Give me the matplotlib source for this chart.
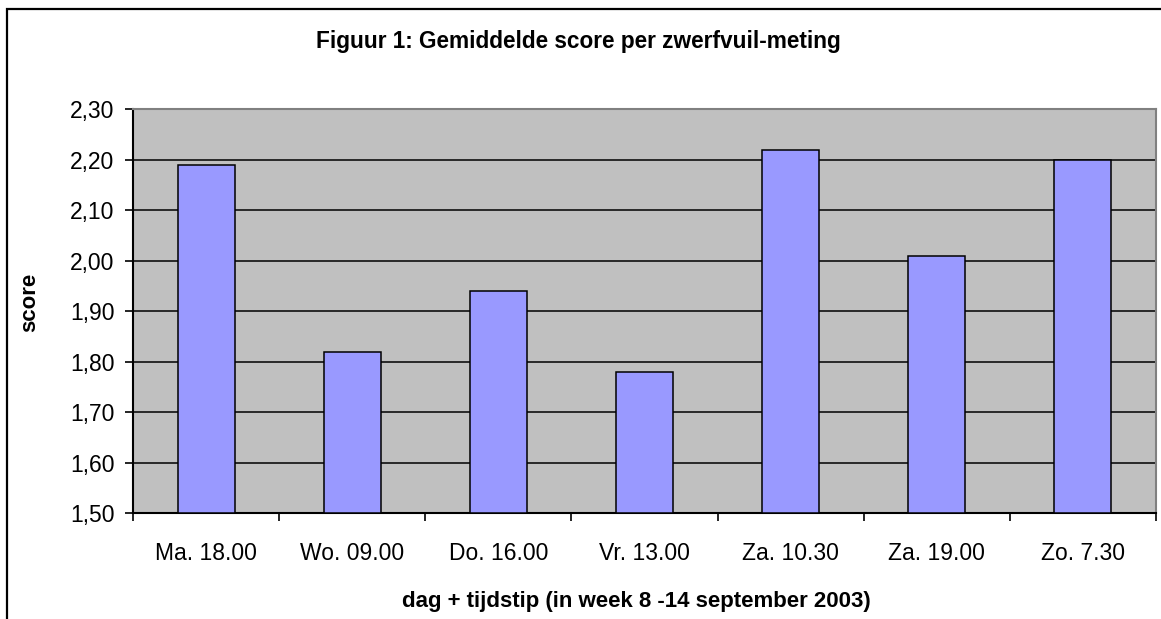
import matplotlib
matplotlib.use("Agg")
import matplotlib.pyplot as plt
from matplotlib.patches import Rectangle
from matplotlib.ticker import FixedLocator, FuncFormatter
import numpy as np

categories = ["Ma. 18.00", "Wo. 09.00", "Do. 16.00", "Vr. 13.00", "Za. 10.30", "Za. 19.00", "Zo. 7.30"]
scores = [2.19, 1.82, 1.94, 1.78, 2.22, 2.01, 2.20]
y_ticks = [1.50, 1.60, 1.70, 1.80, 1.90, 2.00, 2.10, 2.20, 2.30]

title = "Figuur 1: Gemiddelde score per zwerfvuil-meting"
xlabel = "dag + tijdstip (in week 8 -14 september 2003)"
ylabel = "score"

plt.rcParams['font.family'] = ['Liberation Sans', 'DejaVu Sans']

W, H = 1161, 619
fig = plt.figure(figsize=(W / 100, H / 100), dpi=100)
fig.patch.set_facecolor("white")

# outer chart border (partly cut off on right and bottom)
fig.patches.append(Rectangle((7 / W, -0.05), 1.2, 1 - 9 / H + 0.05, transform=fig.transFigure,
                             fill=False, edgecolor="black", linewidth=1.6, clip_on=False))

ax = fig.add_axes([133 / W, 1 - 513 / H, (1156 - 133) / W, (513 - 109.3) / H])
ax.set_facecolor("#C0C0C0")

x = np.arange(len(categories))
ax.bar(x, [s - 1.5 for s in scores], bottom=1.5, width=0.39, color="#9999FF",
       edgecolor="black", linewidth=1.1, zorder=3)

ax.set_xlim(-0.5, len(categories) - 0.5)
ax.set_ylim(1.5, 2.3)
ax.set_yticks(y_ticks)
ax.yaxis.set_major_formatter(FuncFormatter(lambda v, p: f"{v:.2f}".replace(".", ",")))
ax.grid(axis="y", color="black", linewidth=1.1, zorder=1)

ax.set_xticks(x)
ax.set_xticklabels(categories)
ax.xaxis.set_minor_locator(FixedLocator(np.arange(-0.5, len(categories), 1.0)))
ax.tick_params(axis="x", which="major", length=0, pad=21, labelsize=16.5)
ax.tick_params(axis="x", which="minor", length=6, width=1.2, direction="out")
ax.tick_params(axis="y", which="major", length=6, width=1.2, direction="out", labelsize=16.5, pad=7.5)

for s in ["left", "bottom"]:
    ax.spines[s].set_color("black")
    ax.spines[s].set_linewidth(1.5)
for s in ["top", "right"]:
    ax.spines[s].set_color("#808080")
    ax.spines[s].set_linewidth(1.5)

fig.text(578 / W, 1 - 48 / H, title, ha="center", va="baseline",
         fontsize=16.3, fontweight="bold")
fig.text(30 / W, 1 - 302 / H, ylabel, ha="center", va="center", rotation=90,
         fontsize=16.0, fontweight="bold")
fig.text(636 / W, 1 - 607 / H, xlabel, ha="center", va="baseline",
         fontsize=16.0, fontweight="bold")

fig.savefig("out.png", dpi=100)
